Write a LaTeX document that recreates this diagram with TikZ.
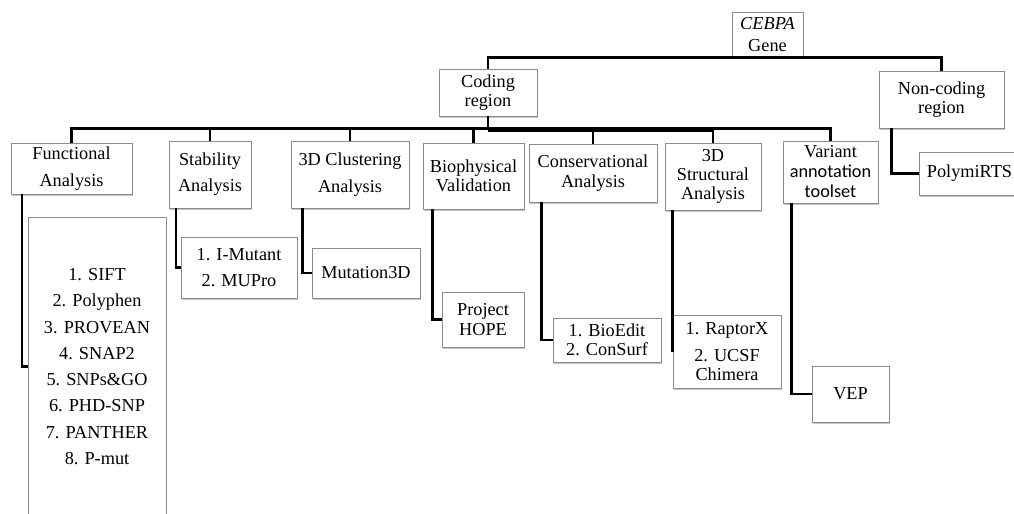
\documentclass[tikz,border=0pt]{standalone}
\usepackage{fontspec}
\setmainfont{Liberation Serif}
\newfontfamily\sansf{Carlito}
\usetikzlibrary{shadows,calc}
\newcommand\bx[7][]{\node[box,#1,minimum width={(#5-#3)*0.75pt},minimum height={(#6-#4)*0.75pt}] (#2) at ({(#3+#5)/2},{(#4+#6)/2}) {#7};}
\begin{document}
\begin{tikzpicture}[x=0.75pt,y=-0.75pt,
  box/.style={draw=black!45, line width=0.7pt, fill=white, align=center, inner sep=0pt,
    font=\fontsize{13.7}{14.5}\selectfont,
    drop shadow={shadow xshift=1pt, shadow yshift=-1.2pt, fill=black!50, opacity=0.45}},
  conn/.style={draw=black, line width=2.1pt}]
\useasboundingbox[fill=white] (0,0) rectangle (1014,514);

\bx{gene}{732}{12}{803}{57}{\textit{CEBPA}\\[1.8pt]Gene}
\bx{coding}{439}{69}{537}{116}{Coding\\region}
\bx{noncoding}{879}{71}{1004}{128}{Non-coding\\region}
\bx{poly}{919}{152}{1020}{195}{PolymiRTS}

\bx{func}{11}{143}{132}{194}{Functional\\[5.5pt]Analysis}
\bx{stab}{169}{141}{251}{208}{Stability\\[5pt]Analysis}
\bx{clus}{291}{141}{409}{208}{3D Clustering\\[5.5pt]Analysis}
\bx{bio}{423}{143}{524}{209}{Biophysical\\Validation}
\bx{cons}{529}{144}{657}{202}{Conservational\\[0.5pt]Analysis}
\bx{strc}{665}{143}{761}{210}{3D\\Structural\\Analysis}
\bx{var}{783}{141}{878}{203}{Variant\\[0.5pt]{\sansf annotation}\\[0.5pt]{\sansf toolset}}

\bx{tools}{28}{217}{166}{516}{1. SIFT\\[5.2pt]2. Polyphen\\[5.2pt]3. PROVEAN\\[5.2pt]4. SNAP2\\[5.2pt]5. SNPs\&GO\\[5.2pt]6. PHD-SNP\\[5.2pt]7. PANTHER\\[5.2pt]8. P-mut}
\bx{imut}{181}{237}{297}{298}{1. I-Mutant\\[5.5pt]2. MUPro}
\bx{mut3d}{312}{248}{420}{298}{Mutation3D}
\bx{hope}{442}{292}{524}{347}{Project\\HOPE}
\bx{bioed}{553}{318}{661}{362}{1. BioEdit\\2. ConSurf}
\bx{raptor}{673}{315}{781}{388}{1. RaptorX\\[6pt]2. UCSF\\Chimera}
\bx{vep}{812}{366}{889}{422}{VEP}

\draw[conn] (coding.north) |- (gene.south) -| (noncoding.north);
\coordinate (bus) at ($(coding.south)+(0,12)$);
\draw[conn] (coding.south) -- (bus);
\draw[conn] (func.north) -- (func.north |- bus) -- (var.north |- bus) -- (var.north);
\foreach \n in {stab,clus,bio,cons,strc} \draw[conn] (\n.north) -- (\n.north |- bus);
\draw[line width=3.4pt] ($(bus)+(0,1)$) -- ($(strc.north |- bus)+(0,1)$);

\draw[conn] ($(func.south west)+(11.5,0)$) |- (tools.west);
\draw[conn] ($(stab.south west)+(7.5,0)$) |- (imut.west);
\draw[conn] ($(clus.south west)+(12,0)$) |- (mut3d.west);
\draw[conn] ($(bio.south west)+(10,0)$) |- (hope.west);
\draw[conn] ($(cons.south west)+(13,0)$) |- (bioed.west);
\draw[conn] ($(strc.south west)+(8,0)$) |- (raptor.west);
\draw[conn] ($(var.south west)+(9,0)$) |- (vep.west);
\draw[conn] ($(noncoding.south west)+(12.7,0)$) |- (poly.west);
\end{tikzpicture}
\end{document}
